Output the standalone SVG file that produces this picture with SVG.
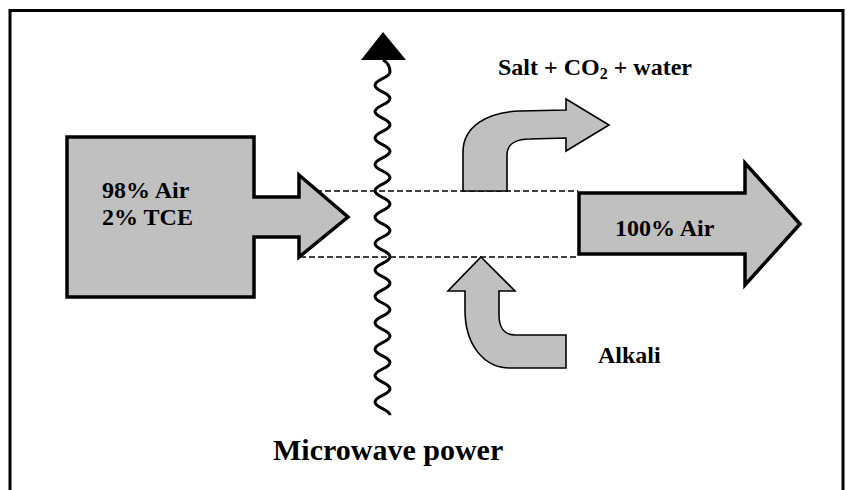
<svg xmlns="http://www.w3.org/2000/svg" width="847" height="490" viewBox="0 0 847 490">
<style>
.bg{fill:#ffffff}
.frame{fill:none;stroke:#000;stroke-width:3}
.block{fill:#c0c0c0;stroke:#000;stroke-width:3.5;stroke-linejoin:miter}
.bent{fill:#c0c0c0;stroke:#000;stroke-width:1.6;stroke-linejoin:miter}
.dash{fill:none;stroke:#000;stroke-width:1.6;stroke-dasharray:6 3}
.wave{fill:none;stroke:#000;stroke-width:3}
.lbl{font-family:"Liberation Serif","Times New Roman",serif;font-weight:bold;fill:#000}
</style>
<rect class="bg" x="0" y="0" width="847" height="490"/>
<rect class="frame" x="10" y="10.5" width="833" height="500"/>
<g id="connectors">
  <line class="dash" x1="316" y1="191" x2="578" y2="191"/>
  <line class="dash" x1="300" y1="257" x2="578" y2="257"/>
</g>
<g id="inlet">
  <path class="block" d="M67,137 L254,137 L254,197 L299,197 L299,175 L348,217 L299,257 L299,237 L254,237 L254,297 L67,297 Z"/>
  <text class="lbl" x="102" y="198" font-size="24">98% Air</text>
  <text class="lbl" x="102" y="225" font-size="24">2% TCE</text>
</g>
<g id="microwave">
  <polygon points="383,32 406,60 361,60" fill="#000"/>
  <path class="wave" d="M383,60 C387,62 390,66 390,72 C390,78 375,79.2 375,85.2 S390,92.4 390,98.4 S375,105.6 375,111.6 S390,118.8 390,124.8 S375,132 375,138 S390,145.2 390,151.2 S375,158.4 375,164.4 S390,171.6 390,177.6 S375,184.8 375,190.8 S390,198 390,204 S375,211.2 375,217.2 S390,224.4 390,230.4 S375,237.6 375,243.6 S390,250.8 390,256.8 S375,264 375,270 S390,277.2 390,283.2 S375,290.4 375,296.4 S390,303.6 390,309.6 S375,316.8 375,322.8 S390,330 390,336 S375,343.2 375,349.2 S390,356.4 390,362.4 S375,369.6 375,375.6 S390,382.8 390,388.8 S375,396 375,402 S390,409.2 390,415.2"/>
  <text class="lbl" x="273" y="460" font-size="30">Microwave power</text>
</g>
<g id="products">
  <path class="bent" d="M463,191 L463,152 C463,126 488,112 520,111 L566,110 L566,99 L609,125 L566,151 L566,138 L530,139 C515,139 507,145 507,155 L507,191 Z"/>
  <text class="lbl" x="498" y="75" font-size="24">Salt + CO<tspan font-size="16" dy="4">2</tspan><tspan dy="-4"> + water</tspan></text>
</g>
<g id="alkali">
  <path class="bent" d="M481,257 L515,291 L499,291 L499,315 C499,328 505,335 515,335 L566,335 L566,368 L510,368 C484,368 465,345 465,310 L465,291 L448,291 Z"/>
  <text class="lbl" x="598" y="363" font-size="24">Alkali</text>
</g>
<g id="outlet">
  <path class="block" d="M579,193 L745,193 L745,163 L800,224 L745,285 L745,254 L579,254 Z"/>
  <text class="lbl" x="615" y="236" font-size="24">100% Air</text>
</g>
</svg>
